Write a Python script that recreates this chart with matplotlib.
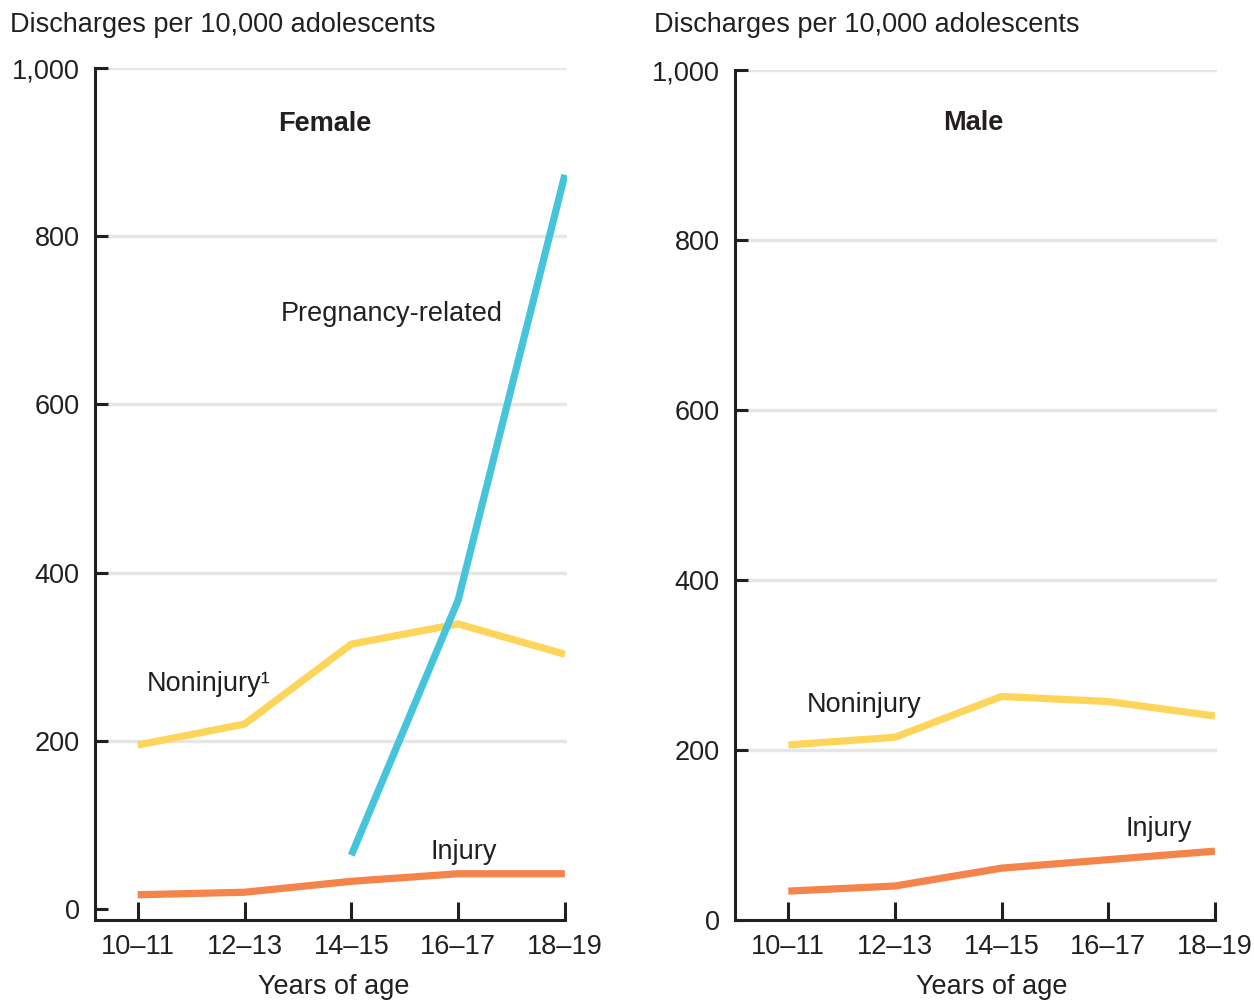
import numpy as np
import matplotlib
matplotlib.use('Agg')
import matplotlib.pyplot as plt

plt.rcParams['font.family'] = ['Liberation Sans', 'DejaVu Sans']

ages = ['10–11', '12–13', '14–15', '16–17', '18–19']

# female
fem_preg_ages = ['14–15', '16–17', '18–19']
fem_preg = [64, 367, 873]
fem_noninj = [195, 220, 315, 339, 303]
fem_inj = [17, 20, 33, 42, 42]

# male
male_noninj = [206, 215, 263, 257, 240]
male_inj = [34, 40, 61, 71, 81]

c_preg = '#45c4dc'
c_non = '#fdd55b'
c_inj = '#f5844b'
dark = '#231f20'
grid = '#e6e6e6'
lw = 5.2
fs = 19.5

fig = plt.figure(figsize=(12.54, 10), dpi=100)
axL = fig.add_axes([95/1254, 0.08, (567-95)/1254, 0.852])
axR = fig.add_axes([735/1254, 0.08, (1217-735)/1254, 0.85])

x = np.arange(len(ages))
xp = [ages.index(a) for a in fem_preg_ages]


def style(ax, xmin, ymin):
    ax.set_xlim(xmin, 4.02)
    ax.set_ylim(ymin, 1000)
    ax.set_yticks([0, 200, 400, 600, 800, 1000])
    ax.set_yticklabels(['0', '200', '400', '600', '800', '1,000'])
    ax.set_xticks(x)
    ax.set_xticklabels(ages)
    for s in ['top', 'right']:
        ax.spines[s].set_visible(False)
    for s in ['left', 'bottom']:
        ax.spines[s].set_linewidth(2.2)
        ax.spines[s].set_color(dark)
    ax.spines['bottom'].set_bounds(xmin, 4)
    ax.tick_params(axis='y', direction='in', length=9, width=2.2, color=dark,
                   labelsize=fs, labelcolor=dark, pad=11)
    ax.tick_params(axis='x', direction='in', length=13, width=2.2, color=dark,
                   labelsize=fs, labelcolor=dark, pad=10)
    for v in [200, 400, 600, 800, 1000]:
        ax.axhline(v, color=grid, lw=2.5, zorder=0)


style(axL, -0.4, -13)
style(axR, -0.5, 0)

axL.plot(x, fem_inj, color=c_inj, lw=lw, solid_capstyle='butt')
axL.plot(x, fem_noninj, color=c_non, lw=lw, solid_capstyle='butt')
axL.plot(xp, fem_preg, color=c_preg, lw=lw, solid_capstyle='butt')

axR.plot(x, male_inj, color=c_inj, lw=lw, solid_capstyle='butt')
axR.plot(x, male_noninj, color=c_non, lw=lw, solid_capstyle='butt')

axL.text(1.75, 934, 'Female', fontsize=fs, fontweight='bold', color=dark, ha='center', va='center')
axR.text(1.73, 938, 'Male', fontsize=fs, fontweight='bold', color=dark, ha='center', va='center')
axL.text(2.38, 707, 'Pregnancy-related', fontsize=fs, color=dark, ha='center', va='center')
axL.text(0.08, 268, 'Noninjury¹', fontsize=fs, color=dark, ha='left', va='center')
axL.text(3.05, 68, 'Injury', fontsize=fs, color=dark, ha='center', va='center')
axR.text(0.17, 253, 'Noninjury', fontsize=fs, color=dark, ha='left', va='center')
axR.text(3.47, 107, 'Injury', fontsize=fs, color=dark, ha='center', va='center')

fig.text(10/1254, 1-25/1000, 'Discharges per 10,000 adolescents', fontsize=fs, color=dark, ha='left', va='center')
fig.text(654/1254, 1-25/1000, 'Discharges per 10,000 adolescents', fontsize=fs, color=dark, ha='left', va='center')
fig.text(334/1254, 1-987/1000, 'Years of age', fontsize=fs, color=dark, ha='center', va='center')
fig.text(992/1254, 1-987/1000, 'Years of age', fontsize=fs, color=dark, ha='center', va='center')

fig.savefig('out.png', dpi=100)
